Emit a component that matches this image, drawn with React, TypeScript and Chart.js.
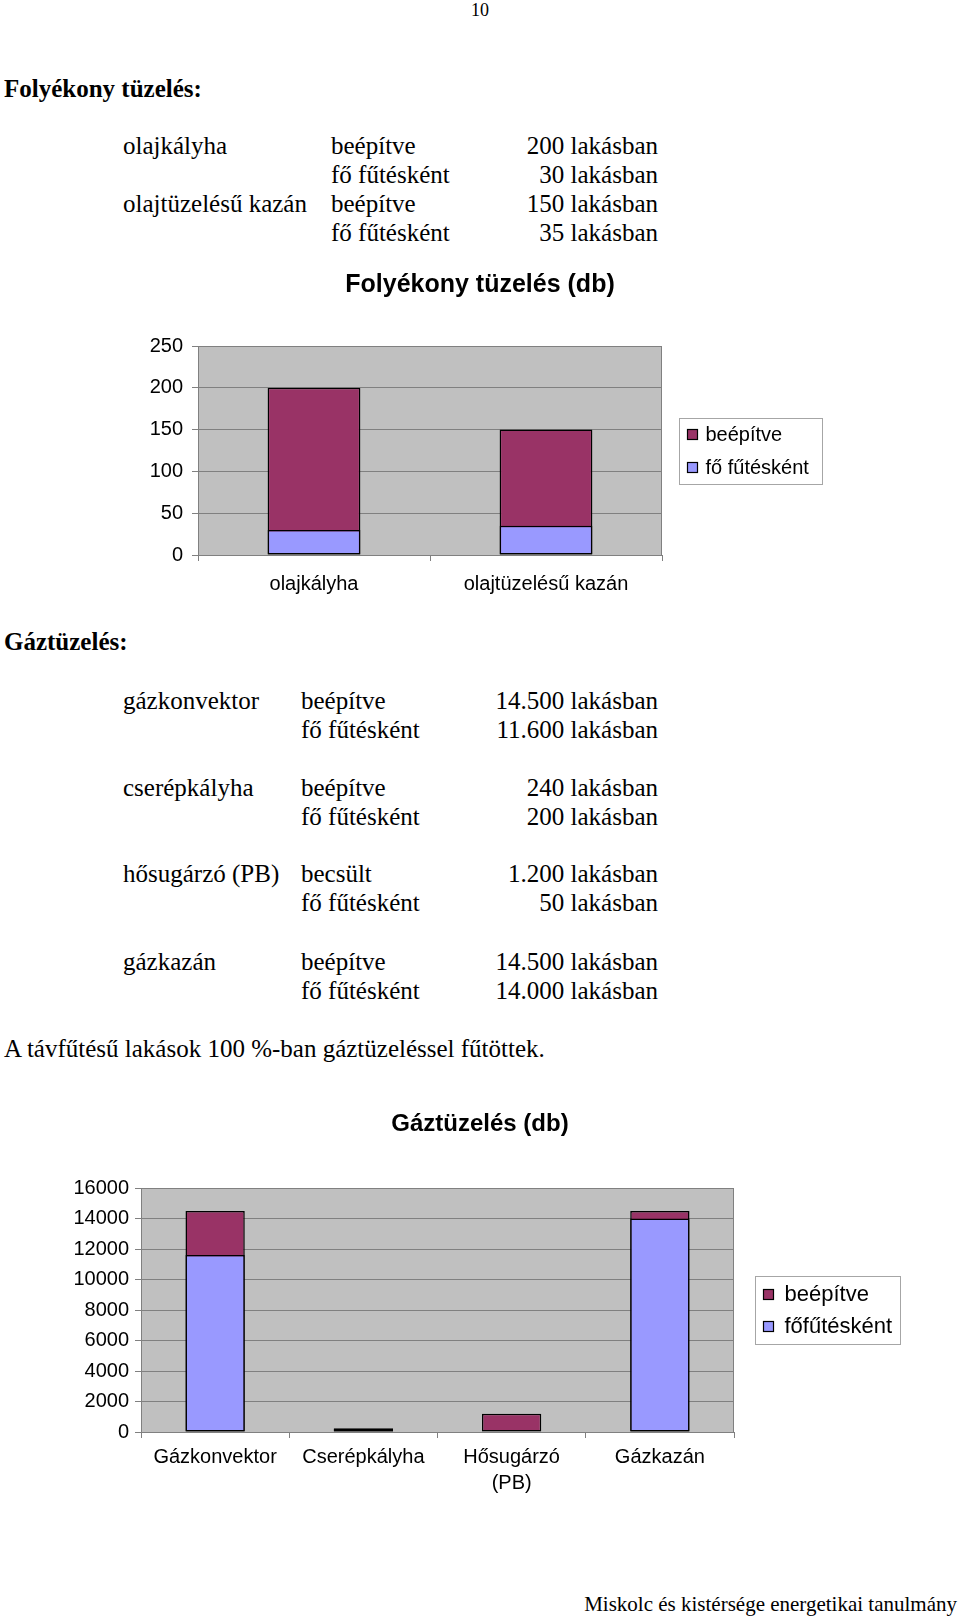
import React, { useEffect, useRef } from 'react';
import { Chart, registerables } from 'chart.js';

Chart.register(...registerables);

// ---------- data ----------
const liquidCategories = ['olajkályha', 'olajtüzelésű kazán'];
const liquidBeepitve = [200, 150];
const liquidFoFutes = [30, 35];
const liquidSeries = ['beépítve', 'fő fűtésként'];
const liquidTicks = [0, 50, 100, 150, 200, 250];

const gasCategories: (string | string[])[] = ['Gázkonvektor', 'Cserépkályha', ['Hősugárzó', '(PB)'], 'Gázkazán'];
const gasBeepitve = [14500, 240, 1200, 14500];
const gasFoFutes = [11600, 200, 50, 14000];
const gasSeries = ['beépítve', 'főfűtésként'];
const gasTicks = [0, 2000, 4000, 6000, 8000, 10000, 12000, 14000, 16000];

const liquidRows = [
  ['olajkályha', 'beépítve', '200 lakásban'],
  ['', 'fő fűtésként', '30 lakásban'],
  ['olajtüzelésű kazán', 'beépítve', '150 lakásban'],
  ['', 'fő fűtésként', '35 lakásban'],
];
const gasRows = [
  ['gázkonvektor', 'beépítve', '14.500 lakásban'],
  ['', 'fő fűtésként', '11.600 lakásban'],
  ['cserépkályha', 'beépítve', '240 lakásban'],
  ['', 'fő fűtésként', '200 lakásban'],
  ['hősugárzó (PB)', 'becsült', '1.200 lakásban'],
  ['', 'fő fűtésként', '50 lakásban'],
  ['gázkazán', 'beépítve', '14.500 lakásban'],
  ['', 'fő fűtésként', '14.000 lakásban'],
];

const COLOR_BEEP = '#993366';
const COLOR_FO = '#9999FF';
const SANS = '"Liberation Sans", Arial, sans-serif';
const SERIF = '"Liberation Serif", "Times New Roman", serif';

type Cfg = {
  top: number;
  height: number;
  title: string;
  titleSize: number;
  titlePadTop: number;
  titlePadBottom: number;
  yWidth: number;
  rightWidth: number;
  xHeight: number;
  tickSize: number;
  yPad: number;
  xPad: number;
  xLineHeight: number;
  legendSize: number;
  legendOffset: number;
  legendW: number;
  legendH: number;
  legendRow: number;
  markerOff: number;
  textOff: number;
  min: number;
  max: number;
};

function BarChart(props: {
  cfg: Cfg;
  categories: (string | string[])[];
  beep: number[];
  fo: number[];
  series: string[];
  ticks: number[];
}) {
  const ref = useRef<HTMLCanvasElement | null>(null);
  useEffect(() => {
    const c = props.cfg;
    const plotPlugin = {
      id: 'plotDecor',
      beforeDraw(chart: any) {
        const { ctx, chartArea: a } = chart;
        ctx.save();
        ctx.fillStyle = '#C0C0C0';
        ctx.fillRect(a.left, a.top, a.right - a.left, a.bottom - a.top);
        ctx.restore();
      },
      afterDraw(chart: any) {
        const { ctx, chartArea: a } = chart;
        ctx.save();
        ctx.strokeStyle = '#808080';
        ctx.lineWidth = 1;
        const rx = Math.round(a.right) - 0.5;
        ctx.beginPath();
        ctx.moveTo(rx, a.top);
        ctx.lineTo(rx, a.bottom);
        ctx.stroke();

        // legend box
        const bx = Math.round(a.right + c.legendOffset) + 0.5;
        const cy = (a.top + a.bottom) / 2;
        const by = Math.round(cy - c.legendH / 2) + 0.5;
        ctx.fillStyle = '#FFFFFF';
        ctx.fillRect(bx, by, c.legendW, c.legendH);
        ctx.strokeStyle = '#A6A6A6';
        ctx.strokeRect(bx, by, c.legendW, c.legendH);
        const ds = chart.data.datasets;
        ds.forEach((d: any, i: number) => {
          const y = cy + (i - (ds.length - 1) / 2) * c.legendRow;
          const my = Math.round(y - 5) + 0.5;
          ctx.fillStyle = d.backgroundColor;
          ctx.fillRect(bx + c.markerOff, my, 10, 10);
          ctx.strokeStyle = '#000';
          ctx.lineWidth = 1.2;
          ctx.strokeRect(bx + c.markerOff, my, 10, 10);
          ctx.fillStyle = '#000';
          ctx.font = `${c.legendSize}px ${SANS}`;
          ctx.textBaseline = 'middle';
          ctx.textAlign = 'left';
          ctx.fillText(d.label, bx + c.textOff, y + 1);
        });
        ctx.restore();
      },
    };

    const barCommon = {
      borderColor: '#000000',
      borderWidth: 1.5,
      borderSkipped: false,
      grouped: false,
      categoryPercentage: 1,
      barPercentage: 0.4,
    };

    const chart = new Chart(ref.current as HTMLCanvasElement, {
      type: 'bar',
      data: {
        labels: props.categories as any,
        datasets: [
          { ...barCommon, label: props.series[0], data: props.beep, backgroundColor: COLOR_BEEP, order: 1 } as any,
          { ...barCommon, label: props.series[1], data: props.fo, backgroundColor: COLOR_FO, order: 0 } as any,
        ],
      },
      options: {
        animation: false,
        responsive: false,
        layout: { padding: 0 },
        plugins: {
          legend: { display: false },
          tooltip: { enabled: false },
          title: {
            display: true,
            text: c.title,
            color: '#000',
            font: { family: SANS, size: c.titleSize, weight: 'bold', lineHeight: 1.2 },
            padding: { top: c.titlePadTop, bottom: c.titlePadBottom },
          },
        },
        scales: {
          x: {
            grid: { offset: true, drawOnChartArea: false, drawTicks: true, tickLength: 6, color: '#808080' },
            border: { color: '#808080', width: 1 },
            ticks: {
              color: '#000',
              font: { family: SANS, size: c.tickSize, lineHeight: c.xLineHeight },
              padding: c.xPad,
              maxRotation: 0,
              autoSkip: false,
            },
            afterFit: (s: any) => {
              s.height = c.xHeight;
            },
          },
          y: {
            min: c.min,
            max: c.max,
            grid: { color: '#808080', tickLength: 6, lineWidth: 1 },
            border: { color: '#808080', width: 1 },
            ticks: {
              color: '#000',
              font: { family: SANS, size: c.tickSize },
              padding: c.yPad,
              callback: (v: any) => String(v),
            },
            afterBuildTicks: (s: any) => {
              s.ticks = props.ticks.map((v) => ({ value: v }));
            },
            afterFit: (s: any) => {
              s.width = c.yWidth;
            },
          },
          y2: {
            position: 'right',
            display: true,
            grid: { display: false },
            ticks: { display: false },
            border: { display: false },
            afterFit: (s: any) => {
              s.width = c.rightWidth;
            },
          },
        },
      } as any,
      plugins: [plotPlugin],
    });
    return () => chart.destroy();
  }, []);
  return (
    <canvas
      ref={ref}
      width={960}
      height={props.cfg.height}
      style={{ position: 'absolute', left: 0, top: props.cfg.top, width: 960, height: props.cfg.height }}
    />
  );
}

const chart1Cfg: Cfg = {
  top: 255,
  height: 345,
  title: 'Folyékony tüzelés (db)',
  titleSize: 25,
  titlePadTop: 15,
  titlePadBottom: 46,
  yWidth: 198,
  rightWidth: 298,
  xHeight: 45,
  tickSize: 20,
  yPad: 9,
  xPad: 11,
  xLineHeight: 1.2,
  legendSize: 20,
  legendOffset: 17,
  legendW: 143,
  legendH: 66,
  legendRow: 33,
  markerOff: 8,
  textOff: 26,
  min: 0,
  max: 250,
};

const chart2Cfg: Cfg = {
  top: 1090,
  height: 420,
  title: 'Gáztüzelés (db)',
  titleSize: 24,
  titlePadTop: 19.6,
  titlePadBottom: 49.6,
  yWidth: 141,
  rightWidth: 226,
  xHeight: 78,
  tickSize: 20,
  yPad: 6,
  xPad: 6,
  xLineHeight: 1.3,
  legendSize: 22,
  legendOffset: 21,
  legendW: 145,
  legendH: 68,
  legendRow: 32,
  markerOff: 8,
  textOff: 29,
  min: 0,
  max: 16000,
};

const LH = 29;

function Line(props: { x?: number; right?: number; y: number; text: string; bold?: boolean; size?: number; lh?: number }) {
  const lh = props.lh ?? LH;
  const style: React.CSSProperties = {
    position: 'absolute',
    top: props.y - lh / 2,
    lineHeight: `${lh}px`,
    fontSize: props.size ?? 25,
    fontFamily: SERIF,
    fontWeight: props.bold ? 'bold' : 'normal',
    whiteSpace: 'nowrap',
    color: '#000',
  };
  if (props.right !== undefined) {
    style.right = 960 - props.right;
    style.textAlign = 'right';
  } else {
    style.left = props.x;
  }
  return <div style={style}>{props.text}</div>;
}

const liquidY = [145, 174, 203, 232];
const gasY = [700, 729, 787, 816, 873, 902, 961, 990];

export default function App() {
  return (
    <div
      style={{
        position: 'absolute',
        left: 0,
        top: 0,
        width: 960,
        height: 1617,
        background: '#fff',
        overflow: 'hidden',
      }}
    >
      <div
        style={{
          position: 'absolute',
          left: 0,
          width: 960,
          top: 0,
          textAlign: 'center',
          fontFamily: SERIF,
          fontSize: 18,
          lineHeight: '21px',
        }}
      >
        10
      </div>
      <Line x={4} y={88} text="Folyékony tüzelés:" bold />
      {liquidRows.map((r, i) => (
        <React.Fragment key={'l' + i}>
          {r[0] && <Line x={123} y={liquidY[i]} text={r[0]} />}
          <Line x={331} y={liquidY[i]} text={r[1]} />
          <Line right={658} y={liquidY[i]} text={r[2]} />
        </React.Fragment>
      ))}

      <BarChart
        cfg={chart1Cfg}
        categories={liquidCategories}
        beep={liquidBeepitve}
        fo={liquidFoFutes}
        series={liquidSeries}
        ticks={liquidTicks}
      />

      <Line x={4} y={641} text="Gáztüzelés:" bold />
      {gasRows.map((r, i) => (
        <React.Fragment key={'g' + i}>
          {r[0] && <Line x={123} y={gasY[i]} text={r[0]} />}
          <Line x={301} y={gasY[i]} text={r[1]} />
          <Line right={658} y={gasY[i]} text={r[2]} />
        </React.Fragment>
      ))}
      <Line x={4} y={1048} text="A távfűtésű lakások 100 %-ban gáztüzeléssel fűtöttek." />

      <BarChart
        cfg={chart2Cfg}
        categories={gasCategories}
        beep={gasBeepitve}
        fo={gasFoFutes}
        series={gasSeries}
        ticks={gasTicks}
      />

      <Line right={957} y={1604} text="Miskolc és kistérsége energetikai tanulmány" size={21} lh={24} />
    </div>
  );
}
